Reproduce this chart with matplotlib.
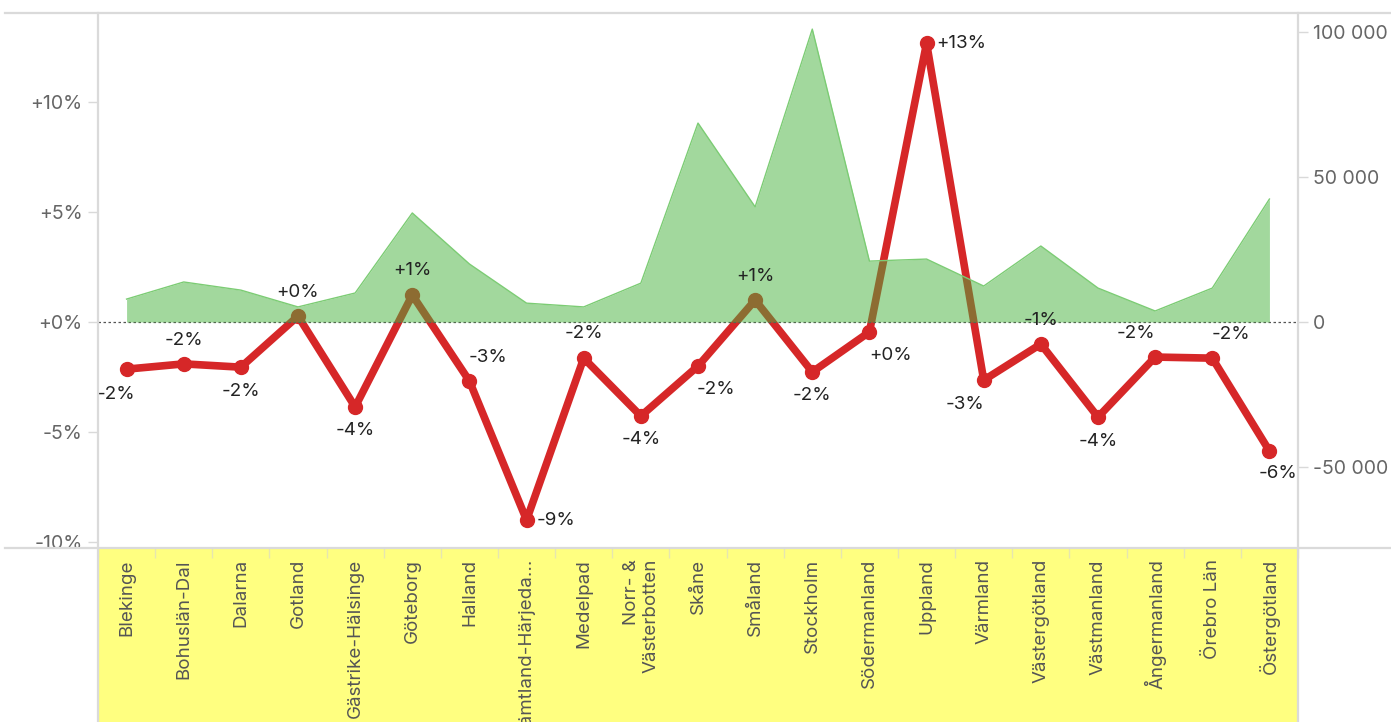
import matplotlib
matplotlib.use("Agg")
import matplotlib.pyplot as plt
from matplotlib.lines import Line2D
from matplotlib.patches import Rectangle
from matplotlib.ticker import FuncFormatter
import numpy as np

# regions (x categories)
regions = [
    "Blekinge", "Bohuslän-Dal", "Dalarna", "Gotland", "Gästrike-Hälsinge",
    "Göteborg", "Halland", "Jämtland-Härjeda...", "Medelpad", "Norr- &\nVästerbotten",
    "Skåne", "Småland", "Stockholm", "Södermanland", "Uppland", "Värmland",
    "Västergötland", "Västmanland", "Ångermanland", "Örebro Län", "Östergötland",
]

# change in percent (left axis, red line)
change_pct = [-2.14, -1.9, -2.05, 0.27, -3.86, 1.23, -2.68, -9.0, -1.64, -4.27,
              -2.0, 1.0, -2.27, -0.45, 12.68, -2.64, -1.0, -4.32, -1.59, -1.64, -5.86]
pct_labels = ["-2%", "-2%", "-2%", "+0%", "-4%", "+1%", "-3%", "-9%", "-2%", "-4%",
              "-2%", "+1%", "-2%", "+0%", "+13%", "-3%", "-1%", "-4%", "-2%", "-2%", "-6%"]

# absolute values (right axis, green area)
volume = [7900, 13800, 11000, 5200, 10000, 37600, 20000, 6500, 5200, 13400,
          68600, 39700, 101000, 21000, 21700, 12400, 26200, 11700, 3800, 11700, 42400]

# label placement (pixel offsets from point, horizontal alignment)
label_pos = [(-11, -25, "center"), (0, 23, "center"), (0, -24, "center"), (0, 24, "center"),
             (0, -24, "center"), (0, 25, "center"), (19, 24, "center"), (10, 0, "left"),
             (0, 25, "center"), (0, -23, "center"), (18, -23, "center"), (0, 24, "center"),
             (0, -23, "center"), (21, -24, "center"), (10, 0, "left"), (-19, -24, "center"),
             (0, 24, "center"), (0, -24, "center"), (-19, 24, "center"), (19, 24, "center"),
             (9, -23, "center")]

plt.rcParams['font.family'] = ['Inter', 'DejaVu Sans']

W, H = 1391, 722
fig = plt.figure(figsize=(W / 100, H / 100), dpi=100)
L, R = 98 / W, 1298 / W
B, T = 1 - 548 / H, 1 - 13 / H
ax = fig.add_axes([L, B, R - L, T - B])
ax2 = ax.twinx()

x = np.arange(len(regions))

# red line (left axis)
ax.plot(x, change_pct, color='#d62728', lw=5.5, marker='o', ms=10,
        solid_capstyle='round', solid_joinstyle='round', zorder=3)

# green area on top (right axis)
ax2.fill_between(x, 0, volume, color='#46b23c', alpha=0.5, lw=0, zorder=2)
ax2.plot(x, volume, color='#7ccc74', lw=1, zorder=2)
ax2.axhline(0, color='#555555', lw=0.9, ls=(0, (2, 2)), zorder=1)

# value labels drawn above everything
for xi, yi, lab, (dx, dy, ha) in zip(x, change_pct, pct_labels, label_pos):
    ax2.annotate(lab, (xi, yi), xycoords=ax.transData, xytext=(dx, dy),
                 textcoords='offset pixels', ha=ha, va='center', fontsize=13.5,
                 color='#222222', zorder=5)

ax.set_xlim(-0.5, len(regions) - 0.5)
ax.set_ylim(-10.27, 14.05)
ax2.set_ylim(-77931, 106552)

ax.set_yticks([-10, -5, 0, 5, 10])
ax.yaxis.set_major_formatter(FuncFormatter(lambda v, p: f"{v:+.0f}%"))
ax2.set_yticks([-50000, 0, 50000, 100000])
ax2.yaxis.set_major_formatter(FuncFormatter(lambda v, p: f"{int(v):,}".replace(",", " ")))

for a in (ax, ax2):
    for s in a.spines.values():
        s.set_visible(False)
    a.tick_params(axis='y', length=7, width=1, color='#d9d9d9', labelcolor='#666666',
                  labelsize=14, pad=4)

ax.set_xticks(x)
ax.set_xticklabels(regions, rotation=90, fontsize=13.5, color='#555555',
                   multialignment='right')
ax.set_xticks(np.arange(-0.5, len(regions), 1), minor=True)
ax.tick_params(axis='x', which='major', length=0, pad=8)
ax.tick_params(axis='x', which='minor', length=7, width=1, color='#e6e6b0', direction='out')

# yellow label band and frame lines
fig.patches.append(Rectangle((L, 0), R - L, B, transform=fig.transFigure,
                             facecolor='#ffff80', edgecolor='none', zorder=-1))
line_kw = dict(transform=fig.transFigure, color='#dadada', lw=1.6)
fig.add_artist(Line2D([5 / W, 1], [T, T], **line_kw))
fig.add_artist(Line2D([5 / W, 1], [B, B], **line_kw))
fig.add_artist(Line2D([L, L], [0, T], **line_kw))
fig.add_artist(Line2D([R, R], [0, T], **line_kw))

fig.savefig("out.png", dpi=100)
